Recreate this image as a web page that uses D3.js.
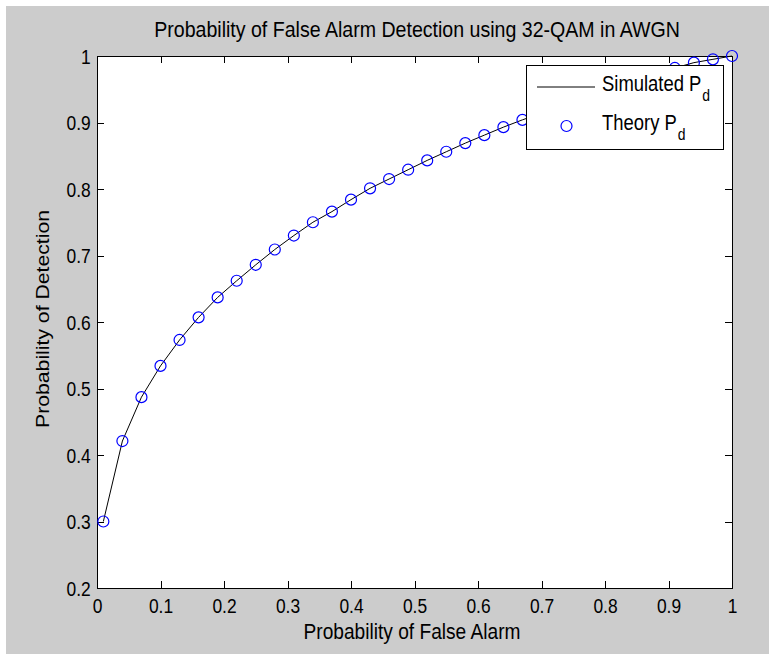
<!DOCTYPE html>
<html>
<head>
<meta charset="utf-8">
<script src="https://cdn.jsdelivr.net/npm/d3@7"></script>
<style>
  body { margin: 0; background: #fff; }
  svg text { font-family: "Liberation Sans", Arial, sans-serif; fill: #000; }
</style>
</head>
<body>
<script>
// Data.
var pfa = [0.01, 0.04, 0.07, 0.10, 0.13, 0.16, 0.19, 0.22, 0.25, 0.28, 0.31, 0.34,
           0.37, 0.40, 0.43, 0.46, 0.49, 0.52, 0.55, 0.58, 0.61, 0.64, 0.67, 0.70,
           0.73, 0.76, 0.79, 0.82, 0.85, 0.88, 0.91, 0.94, 0.97, 1.00];
var pdSimulated = [0.300, 0.421, 0.487, 0.534, 0.573, 0.607, 0.637, 0.662, 0.686, 0.709,
                   0.730, 0.750, 0.766, 0.784, 0.801, 0.815, 0.829, 0.843, 0.856, 0.869,
                   0.881, 0.893, 0.904, 0.914, 0.924, 0.934, 0.944, 0.953, 0.962, 0.971,
                   0.982, 0.990, 0.995, 1.000];
var pdTheory = [0.300, 0.421, 0.487, 0.534, 0.573, 0.607, 0.637, 0.662, 0.686, 0.709,
                0.730, 0.750, 0.766, 0.784, 0.801, 0.815, 0.829, 0.843, 0.856, 0.869,
                0.881, 0.893, 0.904, 0.914, 0.924, 0.934, 0.944, 0.953, 0.962, 0.971,
                0.982, 0.990, 0.995, 1.000];
var xTicks = [0, 0.1, 0.2, 0.3, 0.4, 0.5, 0.6, 0.7, 0.8, 0.9, 1];
var yTicks = [0.2, 0.3, 0.4, 0.5, 0.6, 0.7, 0.8, 0.9, 1];

var W = 769, H = 654;
var plot = { left: 97, right: 732, top: 56, bottom: 588 };
var squeeze = 0.87;   // the screenshot is squeezed horizontally
var fontSize = 20;

var svg = d3.select("body").append("svg")
  .attr("width", W)
  .attr("height", H);

// Figure background (MATLAB gray).
svg.append("rect")
  .attr("x", 6).attr("y", 6)
  .attr("width", W - 6).attr("height", H - 6)
  .attr("fill", "#cccccc");

// Axes area.
svg.append("rect")
  .attr("x", plot.left).attr("y", plot.top)
  .attr("width", plot.right - plot.left)
  .attr("height", plot.bottom - plot.top)
  .attr("fill", "#ffffff");

var x = d3.scaleLinear().domain([0, 1]).range([plot.left, plot.right]);
var y = d3.scaleLinear().domain([0.2, 1]).range([plot.bottom, plot.top]);
var fmt = d3.format("~g");

// Bottom axis with labels, ticks pointing inwards.
var xAxisG = svg.append("g")
  .attr("transform", "translate(0," + plot.bottom + ")")
  .call(d3.axisBottom(x).tickValues(xTicks).tickSize(-7).tickSizeOuter(0)
    .tickPadding(11).tickFormat(fmt));
xAxisG.selectAll("text")
  .attr("font-size", fontSize)
  .attr("transform", "scale(" + squeeze + ",1)");

// Left axis with labels.
var yAxisG = svg.append("g")
  .attr("transform", "translate(" + plot.left + ",0)")
  .call(d3.axisLeft(y).tickValues(yTicks).tickSize(-7).tickSizeOuter(0)
    .tickFormat(fmt));
yAxisG.selectAll("text")
  .attr("font-size", fontSize)
  .attr("x", -7.2)
  .attr("dy", "0.36em")
  .attr("transform", "scale(" + squeeze + ",1)");

// Top and right axes: ticks only.
svg.append("g")
  .attr("transform", "translate(0," + plot.top + ")")
  .call(d3.axisTop(x).tickValues(xTicks).tickSize(-7).tickSizeOuter(0).tickFormat(""));
svg.append("g")
  .attr("transform", "translate(" + plot.right + ",0)")
  .call(d3.axisRight(y).tickValues(yTicks).tickSize(-7).tickSizeOuter(0).tickFormat(""));

svg.selectAll(".domain").remove();
svg.selectAll(".tick line").attr("stroke", "#000").attr("shape-rendering", "crispEdges");

// Axes box.
svg.append("rect")
  .attr("x", plot.left).attr("y", plot.top)
  .attr("width", plot.right - plot.left)
  .attr("height", plot.bottom - plot.top)
  .attr("fill", "none")
  .attr("stroke", "#000")
  .attr("stroke-width", 1)
  .attr("shape-rendering", "crispEdges");

// Simulated curve.
var line = d3.line()
  .x(function (d, i) { return x(pfa[i]); })
  .y(function (d) { return y(d); });
svg.append("path")
  .datum(pdSimulated)
  .attr("d", line)
  .attr("fill", "none")
  .attr("stroke", "#000")
  .attr("stroke-width", 1);

// Theory markers.
svg.selectAll(".theory")
  .data(pdTheory)
  .enter()
  .append("circle")
  .attr("class", "theory")
  .attr("cx", function (d, i) { return x(pfa[i]); })
  .attr("cy", function (d) { return y(d); })
  .attr("r", 5.5)
  .attr("fill", "none")
  .attr("stroke", "#0000ff")
  .attr("stroke-width", 1.2);

// Text helper: text anchored at (tx, ty), squeezed along the screen x direction.
function label(tx, ty, str, size, anchor, vertical) {
  var t = "translate(" + tx + "," + ty + ")" +
    (vertical ? " rotate(-90) scale(1," + squeeze + ")" : " scale(" + squeeze + ",1)");
  return svg.append("text")
    .attr("transform", t)
    .attr("font-size", size)
    .attr("text-anchor", anchor)
    .text(str);
}

label(417, 37, "Probability of False Alarm Detection using 32-QAM in AWGN", 22.5, "middle");
label(412, 639, "Probability of False Alarm", 22, "middle");
label(49, 319, "Probability of Detection", 21.2, "middle", true);

// Legend.
var legend = { x: 526, y: 65, w: 197, h: 84 };
svg.append("rect")
  .attr("x", legend.x).attr("y", legend.y)
  .attr("width", legend.w).attr("height", legend.h)
  .attr("fill", "#fff")
  .attr("stroke", "#000")
  .attr("shape-rendering", "crispEdges");
svg.append("line")
  .attr("x1", 537).attr("x2", 595)
  .attr("y1", 87).attr("y2", 87)
  .attr("stroke", "#000");
svg.append("circle")
  .attr("cx", 566.5).attr("cy", 126)
  .attr("r", 5.5)
  .attr("fill", "none")
  .attr("stroke", "#0000ff")
  .attr("stroke-width", 1.2);

var s1 = label(602, 91, "Simulated P", 21.2, "start");
s1.append("tspan").attr("font-size", 16).attr("dx", 1).attr("dy", 9.5).text("d");
var s2 = label(602, 130, "Theory P", 21.2, "start");
s2.append("tspan").attr("font-size", 16).attr("dx", 1).attr("dy", 9.5).text("d");
</script>
</body>
</html>
